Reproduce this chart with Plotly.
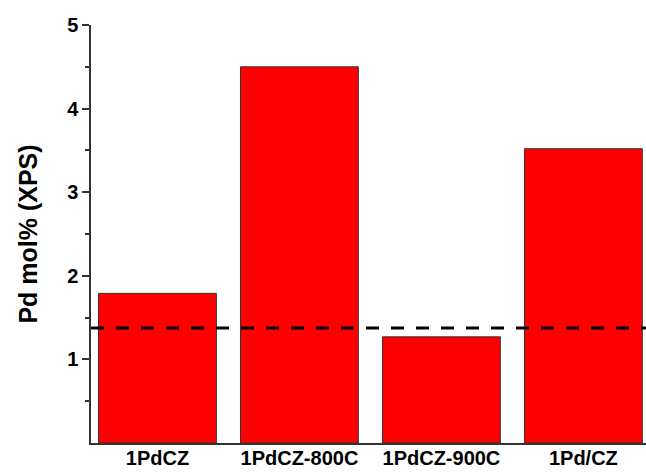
import plotly.graph_objects as go

categories = ["1PdCZ", "1PdCZ-800C", "1PdCZ-900C", "1Pd/CZ"]
pd_mol = [1.79, 4.50, 1.27, 3.52]
reference_level = 1.375
y_ticks = [1, 2, 3, 4, 5]

fig = go.Figure()
fig.add_trace(go.Bar(
    x=list(range(len(categories))), y=pd_mol, width=0.83,
    marker=dict(color="#ff0000", line=dict(color="#333333", width=1)),
    showlegend=False,
))
fig.add_trace(go.Scatter(
    x=[-0.468, 3.5], y=[reference_level, reference_level], mode="lines",
    line=dict(color="black", width=3, dash="13px,12px"), showlegend=False,
))

fig.update_layout(
    width=646, height=472,
    margin=dict(l=91, r=0, t=25, b=29),
    plot_bgcolor="white", paper_bgcolor="white",
    font=dict(family="Arial, Liberation Sans", color="black"),
)
fig.update_xaxes(
    range=[-0.468, 3.441],
    tickvals=list(range(len(categories))), ticktext=categories,
    tickfont=dict(size=20, weight="bold"),
    ticklabelstandoff=-4, automargin=False,
    showline=True, linecolor="#333333", linewidth=1.5,
    ticks="", showgrid=False, zeroline=False,
)
fig.update_yaxes(
    range=[0, 5], automargin=False,
    tickvals=y_ticks, ticktext=[str(v) for v in y_ticks],
    tickfont=dict(size=20, weight="bold"),
    ticks="outside", ticklen=7, tickwidth=1.5, tickcolor="#333333",
    minor=dict(tick0=0.5, dtick=1, ticks="outside", ticklen=4, tickwidth=1.5, tickcolor="#333333"),
    showline=True, linecolor="#333333", linewidth=1.5,
    showgrid=False, zeroline=False,
    title=dict(text="Pd mol% (XPS)", font=dict(size=25, weight="bold"), standoff=22),
)

fig.write_html("out.html")
